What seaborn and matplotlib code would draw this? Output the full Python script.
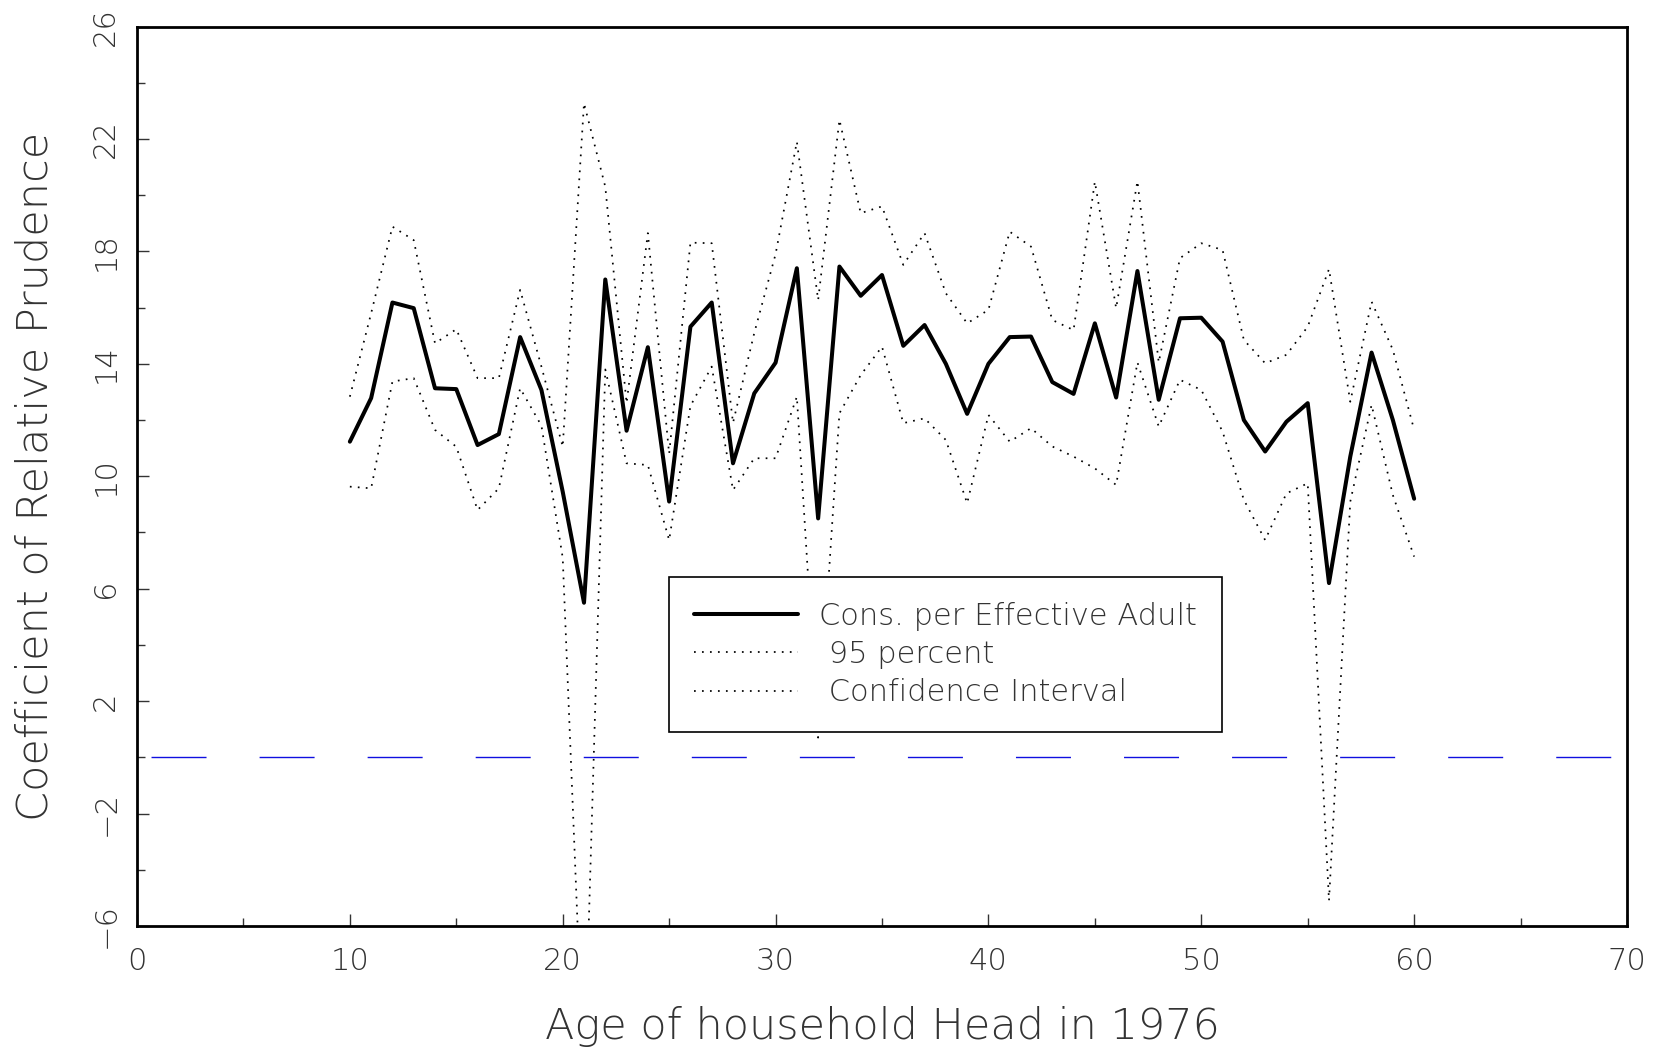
import numpy as np
import pandas as pd
import matplotlib
matplotlib.use("Agg")
import matplotlib.pyplot as plt
import seaborn as sns
from matplotlib.ticker import MultipleLocator, FixedLocator

# ---- data ----
age = list(range(10, 61))

cons_effective_adult = [
    11.23, 12.78, 16.18, 15.98, 13.13, 13.10, 11.11, 11.50, 14.95, 13.07,
    9.45, 5.50, 17.00, 11.62, 14.59, 9.10, 15.32, 16.18, 10.46, 12.95,
    14.04, 17.40, 8.50, 17.46, 16.42, 17.16, 14.64, 15.38, 14.00, 12.22,
    14.00, 14.95, 14.97, 13.35, 12.93, 15.44, 12.80, 17.30, 12.72, 15.62,
    15.64, 14.79, 12.00, 10.88, 11.94, 12.60, 6.20, 10.70, 14.40, 12.00,
    9.20,
]

ci_upper = [
    12.83, 15.80, 18.88, 18.40, 14.73, 15.23, 13.49, 13.49, 16.63, 13.90,
    11.05, 23.27, 20.30, 12.60, 18.65, 10.80, 18.31, 18.29, 11.90, 15.10,
    17.90, 21.90, 16.27, 22.68, 19.36, 19.60, 17.52, 18.65, 16.51, 15.44,
    15.92, 18.70, 18.17, 15.56, 15.20, 20.48, 15.98, 20.50, 14.05, 17.76,
    18.29, 18.05, 14.85, 14.02, 14.32, 15.32, 17.37, 12.65, 16.21, 14.50,
    11.65,
]

ci_lower = [
    9.63, 9.57, 13.37, 13.49, 11.65, 11.05, 8.80, 9.57, 13.13, 11.80,
    7.10, -11.60, 13.80, 10.46, 10.40, 7.73, 12.50, 13.90, 9.51, 10.64,
    10.64, 12.83, 0.70, 12.24, 13.60, 14.61, 11.89, 12.06, 11.29, 9.04,
    12.18, 11.23, 11.71, 11.06, 10.70, 10.28, 9.69, 14.05, 11.77, 13.43,
    13.07, 11.59, 9.16, 7.73, 9.39, 9.75, -5.10, 9.10, 12.54, 9.33,
    7.14,
]

x_ticks = [0, 10, 20, 30, 40, 50, 60, 70]
y_ticks = [-6, -2, 2, 6, 10, 14, 18, 22, 26]
legend_labels = ["Cons. per Effective Adult", " 95 percent", " Confidence Interval"]
x_label = "Age of household Head in 1976"
y_label = "Coefficient of Relative Prudence"

df = pd.DataFrame({"age": age, "main": cons_effective_adult,
                   "upper": ci_upper, "lower": ci_lower})

# ---- style ----
sns.set_theme(style="ticks")
plt.rcParams["font.family"] = ["DejaVu Sans"]
plt.rcParams["font.weight"] = "light"
plt.rcParams["axes.labelweight"] = "light"
text_color = "#333333"

fig = plt.figure(figsize=(16.63, 10.55), dpi=100)
ax = fig.add_axes([137 / 1663, 1 - 926 / 1055, (1627 - 137) / 1663, (926 - 26.5) / 1055])

sns.lineplot(data=df, x="age", y="main", ax=ax, color="black", lw=2.9,
             label=legend_labels[0], zorder=3)
sns.lineplot(data=df, x="age", y="upper", ax=ax, color="black", lw=1.25,
             linestyle=(0, (1, 3.6)), label=legend_labels[1], zorder=2)
sns.lineplot(data=df, x="age", y="lower", ax=ax, color="black", lw=1.25,
             linestyle=(0, (1, 3.6)), label=legend_labels[2], zorder=2)

ax.axhline(0, color="#1010e0", lw=1.0, linestyle=(67.7, (39.6, 38.2)), zorder=1)

ax.set_xlim(0, 70)
ax.set_ylim(-6, 26)

ax.xaxis.set_major_locator(FixedLocator(x_ticks))
ax.xaxis.set_minor_locator(MultipleLocator(5))
ax.yaxis.set_major_locator(FixedLocator(y_ticks))
ax.yaxis.set_minor_locator(MultipleLocator(2))
ax.set_xticklabels([str(v) for v in x_ticks])
ax.set_yticklabels([str(v).replace("-", "\u2212") for v in y_ticks])

ax.tick_params(axis="both", which="major", direction="in", length=8.6, width=1.0,
               color="#333333", labelsize=22, labelcolor=text_color)
ax.tick_params(axis="both", which="minor", direction="in", length=5.8, width=1.0,
               color="#333333")
ax.tick_params(axis="x", which="major", pad=15)
ax.tick_params(axis="y", which="major", pad=12)
for lab in ax.get_yticklabels():
    lab.set_rotation(90)
    lab.set_va("center")
    lab.set_ha("right")

for side in ["left", "bottom", "top", "right"]:
    ax.spines[side].set_visible(True)
    ax.spines[side].set_color("black")
    ax.spines[side].set_linewidth(2.0)

ax.set_xlabel(x_label, fontsize=31, color=text_color, labelpad=22)
ax.set_ylabel(y_label, fontsize=31, color=text_color, labelpad=26)

leg = ax.legend(loc="upper left", bbox_to_anchor=(25 / 70, (6.42 + 6) / 32),
                fontsize=22, frameon=True, fancybox=False, framealpha=1,
                edgecolor="black", handlelength=3.4, handletextpad=0.7,
                borderpad=0.82, labelspacing=0.3, borderaxespad=0)
leg.get_frame().set_linewidth(1.2)
for t in leg.get_texts():
    t.set_color(text_color)
leg.set_zorder(5)

fig.savefig("out.png", dpi=100, facecolor="white")
